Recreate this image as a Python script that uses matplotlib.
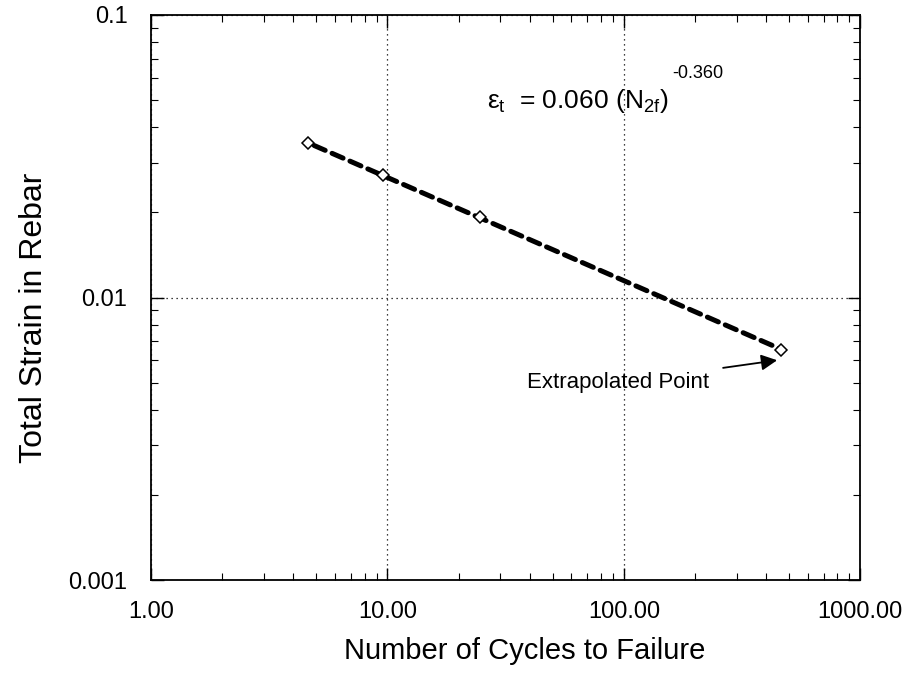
"""Strain-life plot for rebar: total strain vs cycles to failure (log-log)."""

import matplotlib

matplotlib.use("Agg")
import matplotlib.pyplot as plt
from matplotlib.ticker import FixedLocator, FixedFormatter, LogLocator, NullFormatter

plt.rcParams["font.family"] = ["Liberation Sans", "DejaVu Sans"]
plt.rcParams["mathtext.fontset"] = "custom"
plt.rcParams["mathtext.rm"] = "Liberation Sans"
plt.rcParams["mathtext.it"] = "Liberation Sans"

# Test data
cycles = [4.6, 9.6, 24.6, 463.0]
strain = [0.0352, 0.0272, 0.0193, 0.00652]

# Fitted power-law line endpoints: eps_t = 0.060 (N_2f)^-0.360
fit_cycles = [4.9, 455.0]
fit_strain = [0.0345, 0.0066]

x_ticks = [1, 10, 100, 1000]
x_tick_labels = ["1.00", "10.00", "100.00", "1000.00"]
y_ticks = [0.001, 0.01, 0.1]
y_tick_labels = ["0.001", "0.01", "0.1"]

fig = plt.figure(figsize=(9.07, 6.77), dpi=100)
ax = fig.add_axes([0.1665, 0.143, 0.782, 0.835])

ax.plot(fit_cycles, fit_strain, color="black", linestyle=(0, (2.4, 1.5)),
        linewidth=3.6, dash_capstyle="round", zorder=2)
ax.plot(cycles, strain, linestyle="none", marker="D", markersize=6,
        markerfacecolor="white", markeredgecolor="black", markeredgewidth=1.1,
        zorder=3)

ax.set_xscale("log")
ax.set_yscale("log")
ax.set_xlim(1, 1000)
ax.set_ylim(0.001, 0.1)

ax.xaxis.set_major_locator(FixedLocator(x_ticks))
ax.xaxis.set_major_formatter(FixedFormatter(x_tick_labels))
ax.yaxis.set_major_locator(FixedLocator(y_ticks))
ax.yaxis.set_major_formatter(FixedFormatter(y_tick_labels))
for axis in (ax.xaxis, ax.yaxis):
    axis.set_minor_locator(LogLocator(base=10, subs=range(2, 10)))
    axis.set_minor_formatter(NullFormatter())

ax.tick_params(which="both", direction="in", top=True, right=True)
ax.tick_params(which="major", length=9, width=1, labelsize=17)
ax.tick_params(which="minor", length=5, width=0.8)
ax.tick_params(axis="x", which="major", pad=15)
ax.tick_params(axis="y", which="major", pad=17)

ax.grid(True, which="major", color="black", linestyle=(0, (1, 3)), linewidth=0.9)
for spine in ax.spines.values():
    spine.set_linewidth(1.3)

ax.set_xlabel("Number of Cycles to Failure", fontsize=21, labelpad=10, x=0.527)
ax.set_ylabel("Total Strain in Rebar", fontsize=23, labelpad=14, y=0.464)

# equation: main line plus raised exponent
ax.text(0.474, 0.835, r"$\varepsilon_t$  = 0.060 (N$_{2f}$)",
        transform=ax.transAxes, fontsize=19, ha="left", va="baseline")
ax.text(0.735, 0.888, "-0.360", transform=ax.transAxes, fontsize=13,
        ha="left", va="baseline")

ax.annotate("Extrapolated Point", xy=(445, 0.0060), xytext=(39, 0.0050),
            fontsize=16, ha="left", va="center",
            arrowprops=dict(arrowstyle="-|>", color="black", lw=1.3,
                            mutation_scale=24, shrinkA=8, shrinkB=0))

fig.savefig("out.png", dpi=100)
